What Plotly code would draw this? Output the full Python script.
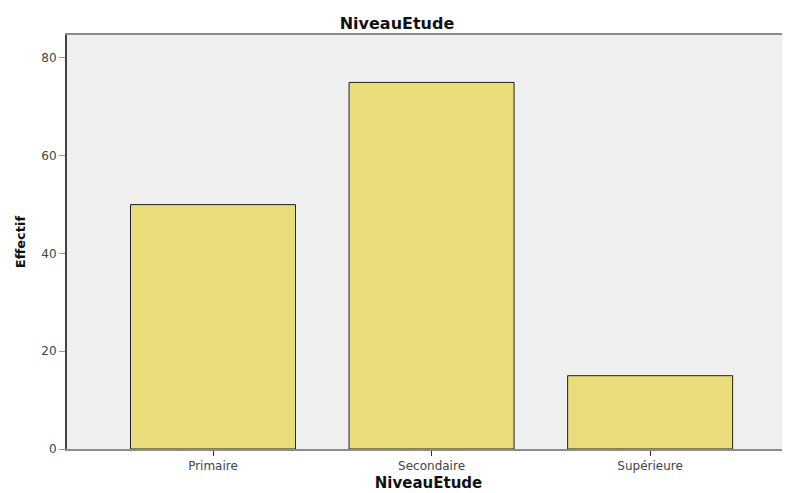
import plotly.graph_objects as go

categories = ["Primaire", "Secondaire", "Supérieure"]
effectifs = [50, 75, 15]
y_ticks = [0, 20, 40, 60, 80]

FONT = "DejaVu Sans, Liberation Sans, Arial, sans-serif"

fig = go.Figure()
fig.add_trace(go.Bar(
    x=categories, y=effectifs,
    marker=dict(color="#E8DD7A", line=dict(color="#222222", width=1)),
    width=0.755,
))

# The page body adds an 8px offset; margins compensate for it.
fig.update_layout(
    width=790, height=493,
    margin=dict(l=59, r=8, t=27, b=52, autoexpand=False),
    paper_bgcolor="white", plot_bgcolor="#EFEFEF",
    font=dict(family=FONT, color="#444444", size=12),
    showlegend=False,
    title=dict(text="<b>NiveauEtude</b>", x=389 / 790, xanchor="center", xref="container",
               y=1 - 15 / 493, yref="container", yanchor="middle",
               font=dict(family=FONT, size=16, color="#111111")),
)
fig.update_xaxes(
    range=[-0.668, 2.64], automargin=False,
    showline=True, linecolor="#8C8C8C", linewidth=2, mirror=True,
    ticks="outside", ticklen=5, tickcolor="#333333",
    showgrid=False, zeroline=False,
    tickfont=dict(family=FONT, size=12, color="#444444"),
    title=dict(text="<b>NiveauEtude</b>", font=dict(family=FONT, size=15, color="#111111"), standoff=5),
)
fig.update_yaxes(
    range=[0, 84.7], automargin=False,
    tickvals=y_ticks,
    showline=True, linecolor="#444444", linewidth=2,
    ticks="outside", ticklen=6, tickcolor="#999999",
    showgrid=False, zeroline=False,
    tickfont=dict(family=FONT, size=12, color="#444444"),
    title=dict(text="<b>Effectif</b>", font=dict(family=FONT, size=13, color="#111111"), standoff=13),
)

fig.write_html("out.html")
